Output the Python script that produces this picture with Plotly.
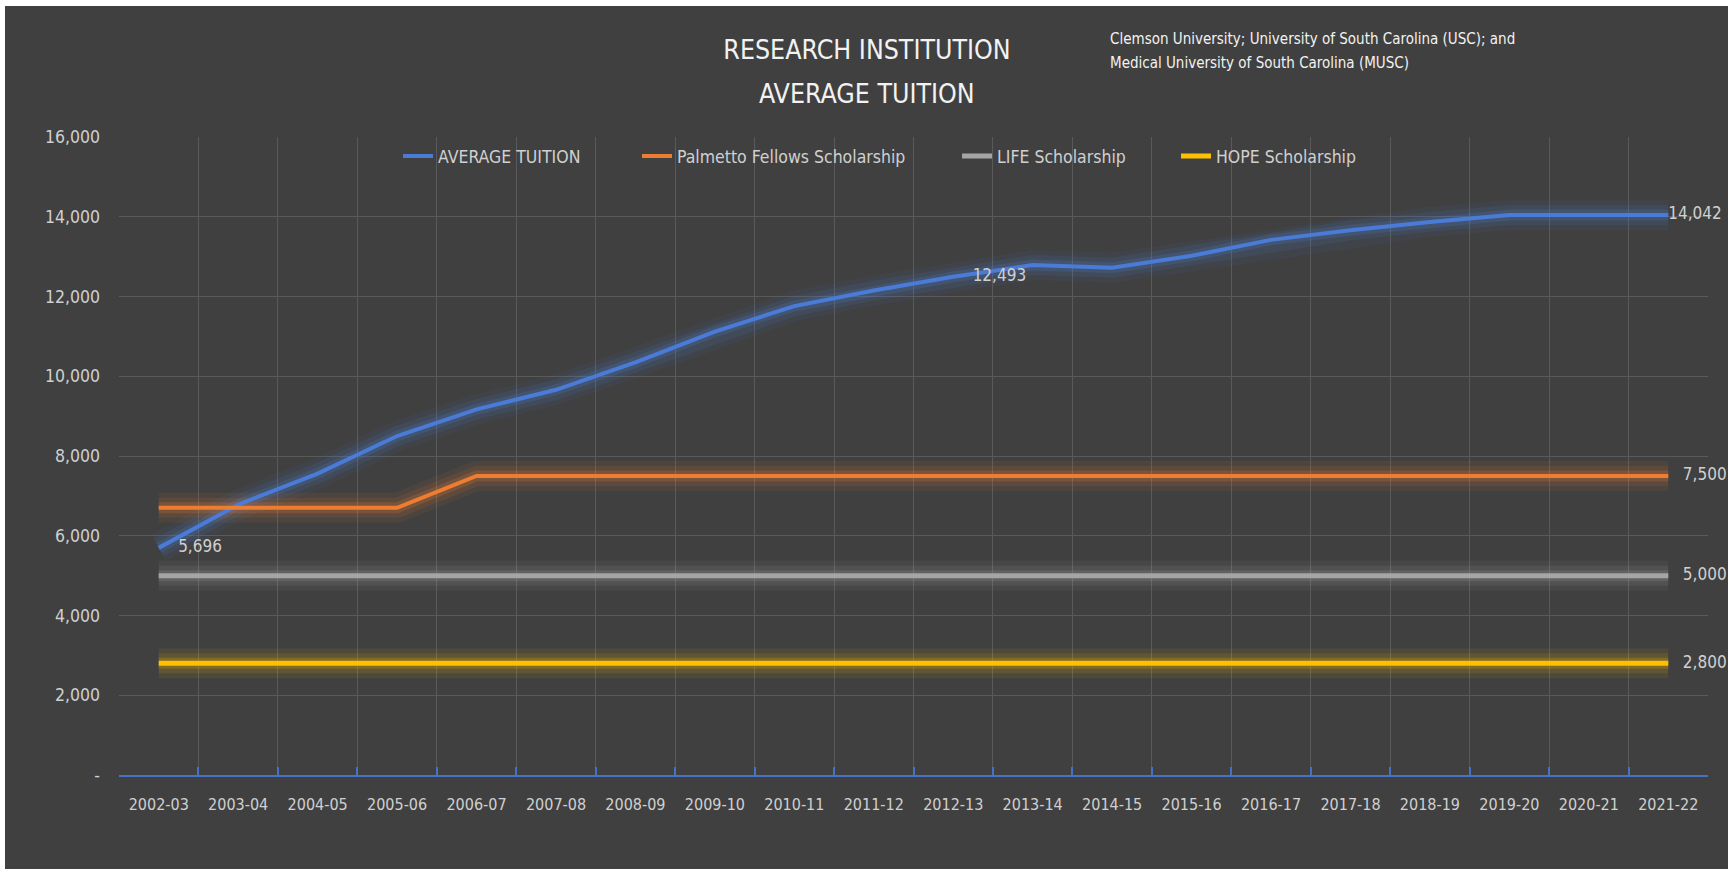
import plotly.graph_objects as go

years = ["2002-03", "2003-04", "2004-05", "2005-06", "2006-07", "2007-08", "2008-09",
         "2009-10", "2010-11", "2011-12", "2012-13", "2013-14", "2014-15", "2015-16",
         "2016-17", "2017-18", "2018-19", "2019-20", "2020-21", "2021-22"]
avg_tuition = [5696, 6780, 7560, 8500, 9170, 9660, 10350, 11120, 11760, 12150, 12493,
               12790, 12720, 13020, 13420, 13660, 13870, 14042, 14042, 14042]
palmetto = [6700, 6700, 6700, 6700, 7500, 7500, 7500, 7500, 7500, 7500, 7500, 7500,
            7500, 7500, 7500, 7500, 7500, 7500, 7500, 7500]
life = [5000] * 20
hope = [2800] * 20

series = [
    ("AVERAGE TUITION", avg_tuition, "#4A7BD6", "74,123,214", 4, "legend"),
    ("Palmetto Fellows Scholarship", palmetto, "#ED7D31", "237,125,49", 4, "legend2"),
    ("LIFE Scholarship", life, "#A5A5A5", "165,165,165", 5, "legend3"),
    ("HOPE Scholarship", hope, "#FFC000", "255,192,0", 5, "legend4"),
]
# data labels: series -> {index: prefix spacing}
label_idx = {
    "AVERAGE TUITION": {0: "    ", 10: "    ", 19: ""},
    "Palmetto Fellows Scholarship": {19: "   "},
    "LIFE Scholarship": {19: "   "},
    "HOPE Scholarship": {19: "   "},
}

FONT = "DejaVu Sans Condensed, Liberation Sans Narrow, Arial Narrow, sans-serif"
TXT = "#D0D0D0"

fig = go.Figure()

# soft glow layers
for name, vals, col, rgb, w0, lg in series:
    for w, a in [(30, 0.07), (20, 0.11), (11, 0.20)]:
        fig.add_trace(go.Scatter(x=years, y=vals, mode="lines",
                                 line=dict(color=f"rgba({rgb},{a})", width=w),
                                 hoverinfo="skip", showlegend=False))

for name, vals, col, rgb, w0, lg in series:
    idx = label_idx[name]
    texts = [idx[i] + f"{v:,}" if i in idx else "" for i, v in enumerate(vals)]
    fig.add_trace(go.Scatter(x=years, y=vals, mode="lines+text", name=name,
                             line=dict(color=col, width=w0),
                             text=texts, textposition="middle right",
                             textfont=dict(family=FONT, size=17, color=TXT),
                             cliponaxis=False, legend=lg))

leg_common = dict(orientation="h", xanchor="left", y=0.97, yanchor="middle",
                  bgcolor="rgba(0,0,0,0)", font=dict(family=FONT, size=17.5, color=TXT))

fig.update_layout(
    width=1723, height=863,
    paper_bgcolor="#404040", plot_bgcolor="#404040",
    margin=dict(l=114, r=20, t=131, b=94),
    font=dict(family=FONT, color=TXT, size=17),
    title=dict(text="RESEARCH INSTITUTION", x=862 / 1723, xanchor="center",
               y=1 - 44 / 863, yanchor="middle", yref="container",
               font=dict(family=FONT, size=26.5, color="#F2F2F2")),
    legend=dict(x=0.1756, **leg_common),
    legend2=dict(x=0.3260, **leg_common),
    legend3=dict(x=0.5274, **leg_common),
    legend4=dict(x=0.6652, **leg_common),
    annotations=[
        dict(text="AVERAGE TUITION", xref="paper", yref="paper", x=0.4707, y=1.0674,
             xanchor="center", yanchor="middle", showarrow=False,
             font=dict(family=FONT, size=26.5, color="#F2F2F2")),
        dict(text="Clemson University; University of South Carolina (USC); and",
             xref="paper", yref="paper", x=0.6224, y=1.1536, xanchor="left",
             yanchor="middle", align="left", showarrow=False,
             font=dict(family=FONT, size=15, color="#F2F2F2")),
        dict(text="Medical University of South Carolina (MUSC)",
             xref="paper", yref="paper", x=0.6224, y=1.116, xanchor="left",
             yanchor="middle", align="left", showarrow=False,
             font=dict(family=FONT, size=15, color="#F2F2F2")),
    ],
    showlegend=True,
)
fig.update_xaxes(type="category", tickson="boundaries", showgrid=True, gridcolor="#5A5A5A",
                 gridwidth=1, showline=True, linecolor="#4472C4", linewidth=2,
                 ticks="inside", ticklen=8, tickcolor="#4472C4", tickwidth=1.5,
                 ticklabelstandoff=14, tickfont=dict(family=FONT, size=16, color=TXT),
                 range=[-0.5, 19.5], zeroline=False)
fig.update_yaxes(range=[0, 16000], tickvals=[0, 2000, 4000, 6000, 8000, 10000, 12000, 14000, 16000],
                 ticktext=["-", "2,000", "4,000", "6,000", "8,000", "10,000", "12,000", "14,000", "16,000"],
                 showgrid=True, gridcolor="#5A5A5A", gridwidth=1, zeroline=False,
                 ticks="", ticklabelstandoff=18, tickfont=dict(family=FONT, size=17.5, color=TXT))

fig.write_html("out.html", post_script="document.body.style.margin='6px 0 0 5px';document.body.style.overflow='hidden';")
